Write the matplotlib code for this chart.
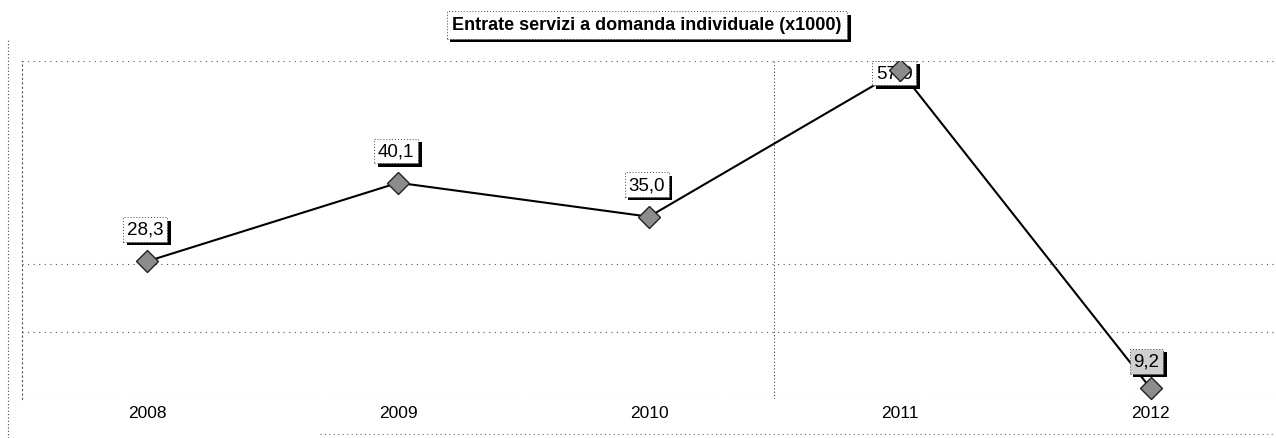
import matplotlib
matplotlib.use("Agg")
import matplotlib.pyplot as plt
import matplotlib.patheffects as pe
from matplotlib.lines import Line2D

plt.rcParams['font.family'] = ['Liberation Sans', 'DejaVu Sans']

years = ["2008", "2009", "2010", "2011", "2012"]
entrate = [28.3, 40.1, 35.0, 57.0, 9.2]
title = "Entrate servizi a domanda individuale (x1000)"

W, H = 1276, 439
fig = plt.figure(figsize=(W / 100, H / 100), dpi=100)
ax = fig.add_axes([22 / W, (H - 400) / H, (W - 22) / W, (400 - 62) / H])

x = list(range(len(years)))
ax.plot(x, entrate, color='black', lw=1.5, zorder=3)
ax.plot(x, entrate, ls='none', marker='D', ms=11.5, mfc='#8c8c8c', mec='#222222',
        mew=1.0, zorder=6)

ymin, ymax = 7.6, 58.4
ax.set_xlim(-0.5, len(years) - 0.5)
ax.set_ylim(ymin, ymax)

# dotted grid (only a few horizontal levels show)
grid_kw = dict(color='#555555', lw=0.8, ls=(0, (1, 4)), zorder=1)
for gy in [ymax - 0.05, 27.9, 17.7, ymin + 0.05]:
    ax.axhline(gy, **grid_kw)
ax.axvline(2.5, color='#444444', lw=0.8, ls=(0, (1, 2)), zorder=1)

ax.set_xticks(x)
ax.set_xticklabels(years, fontsize=12.5)
ax.tick_params(axis='x', length=0, pad=4)
ax.set_yticks([])
for s in ['top', 'right', 'bottom']:
    ax.spines[s].set_visible(False)
ax.spines['left'].set_linestyle((0, (1, 3)))
ax.spines['left'].set_color('#555555')
ax.spines['left'].set_linewidth(0.8)

shadow = [pe.SimplePatchShadow(offset=(2.5, -2.5), shadow_rgbFace='black', alpha=1.0),
          pe.Normal()]

# value labels (offsets in points)
offsets = [(-1.5, 23), (-1.5, 23), (-1.5, 23), (-4, -2), (-3, 19.5)]
faces = ['white', 'white', 'white', 'white', '#cfcfcf']
for xi, v, off, fc in zip(x, entrate, offsets, faces):
    lab = f"{v:.1f}".replace('.', ',')
    t = ax.annotate(lab, (xi, v), xytext=off, textcoords='offset points',
                    ha='center', va='center', fontsize=13.5, zorder=5,
                    bbox=dict(boxstyle='square,pad=0.2', fc=fc, ec='#444444',
                              lw=0.7, ls=(0, (1, 2))))
    t.get_bbox_patch().set_path_effects(shadow)

# title box
tt = fig.text(647 / W, 1 - 26 / H, title, ha='center', va='center',
              fontsize=13, fontweight='bold',
              bbox=dict(boxstyle='square,pad=0.3', fc='white', ec='#444444',
                        lw=0.7, ls=(0, (1, 2))))
tt.get_bbox_patch().set_path_effects(shadow)

# outer dotted frame pieces
fig.add_artist(Line2D([8 / W, 8 / W], [0, 1 - 40 / H], transform=fig.transFigure,
                      color='#444444', lw=0.8, ls=(0, (1, 2))))
fig.add_artist(Line2D([320 / W, 1], [1 - 435 / H, 1 - 435 / H], transform=fig.transFigure,
                      color='#666666', lw=0.8, ls=(0, (1, 3))))

fig.savefig("out.png", dpi=100)
